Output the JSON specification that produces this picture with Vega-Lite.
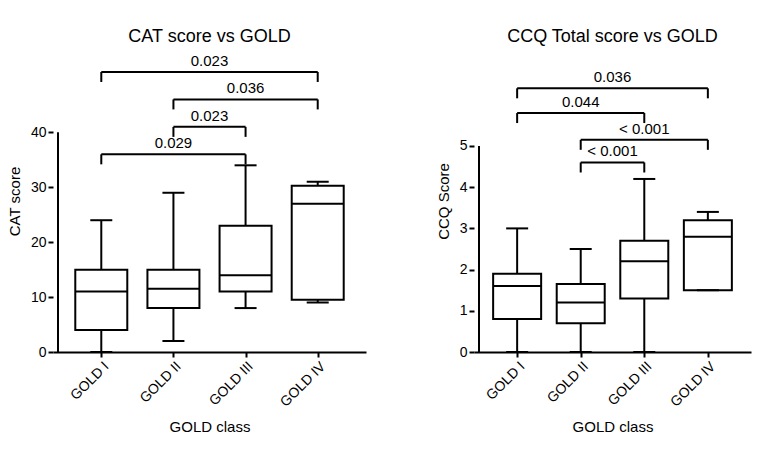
{
"$schema":"https://vega.github.io/schema/vega-lite/v6.json",
"padding":{"left":7,"top":28,"right":5,"bottom":5},
"spacing":70,
"config":{"font":"Liberation Sans","view":{"stroke":null},"axis":{"labelFontSize":14,"titleFontSize":15,"titleFontWeight":"normal","labelColor":"#000","titleColor":"#000","domainColor":"#000","tickColor":"#000","domainWidth":2,"tickWidth":2,"grid":false},"title":{"fontSize":18,"fontWeight":"normal"}},
"datasets":{
"boxesL":[{"g":1,"lo":0,"q1":4,"med":11,"q3":15,"hi":24},{"g":2,"lo":2,"q1":8,"med":11.5,"q3":15,"hi":29},{"g":3,"lo":8,"q1":11,"med":14,"q3":23,"hi":34},{"g":4,"lo":9,"q1":9.5,"med":27,"q3":30.3,"hi":31}],
"boxesR":[{"g":1,"lo":0,"q1":0.8,"med":1.6,"q3":1.9,"hi":3},{"g":2,"lo":0,"q1":0.7,"med":1.2,"q3":1.65,"hi":2.5},{"g":3,"lo":0,"q1":1.3,"med":2.2,"q3":2.7,"hi":4.2},{"g":4,"lo":1.5,"q1":1.5,"med":2.8,"q3":3.2,"hi":3.4}],
"brL":[{"from":1,"to":3,"y":36,"label":"0.029"},{"from":2,"to":3,"y":41,"label":"0.023"},{"from":2,"to":4,"y":46,"label":"0.036"},{"from":1,"to":4,"y":51,"label":"0.023"}],
"brR":[{"from":2,"to":3,"y":4.6,"label":"< 0.001"},{"from":2,"to":4,"y":5.15,"label":"< 0.001"},{"from":1,"to":3,"y":5.8,"label":"0.044"},{"from":1,"to":4,"y":6.4,"label":"0.036"}]
},
"hconcat":[
{"title":"CAT score vs GOLD","width":313,"height":302,
"layer":[
{"data":{"values":[{"a":0}]},"mark":{"type":"rule","strokeWidth":2,"color":"#000"},"encoding":{"x":{"datum":0.4,"type":"quantitative","scale":{"domain":[0.4,4.6]}},"y":{"datum":0,"type":"quantitative"},"y2":{"datum":40}}},
{"data":{"name":"boxesL"},"mark":{"type":"rule","strokeWidth":2,"color":"#000"},"encoding":{"x":{"field":"g","type":"quantitative","scale":{"domain":[0.4,4.6],"nice":false},"axis":{"values":[1,2,3,4],"labelExpr":"['','GOLD I','GOLD II','GOLD III','GOLD IV'][datum.value]","labelAngle":-45,"title":"GOLD class","titlePadding":10}},"y":{"field":"lo","type":"quantitative","scale":{"domain":[0,55],"nice":false},"axis":{"values":[0,10,20,30,40],"domain":false,"title":"CAT score","titlePadding":8}},"y2":{"field":"hi"}}},
{"data":{"name":"boxesL"},"mark":{"type":"bar","fill":"white","stroke":"#000","strokeWidth":2,"size":52},"encoding":{"x":{"field":"g","type":"quantitative"},"y":{"field":"q1","type":"quantitative"},"y2":{"field":"q3"}}},
{"data":{"name":"boxesL"},"mark":{"type":"tick","orient":"horizontal","color":"#000","size":52,"thickness":2,"opacity":1},"encoding":{"x":{"field":"g","type":"quantitative"},"y":{"field":"med","type":"quantitative"}}},
{"data":{"name":"boxesL"},"mark":{"type":"tick","orient":"horizontal","color":"#000","size":22,"thickness":2,"opacity":1},"encoding":{"x":{"field":"g","type":"quantitative"},"y":{"field":"lo","type":"quantitative"}}},
{"data":{"name":"boxesL"},"mark":{"type":"tick","orient":"horizontal","color":"#000","size":22,"thickness":2,"opacity":1},"encoding":{"x":{"field":"g","type":"quantitative"},"y":{"field":"hi","type":"quantitative"}}},
{"data":{"name":"brL"},"mark":{"type":"rule","strokeWidth":2,"color":"#000"},"encoding":{"x":{"field":"from","type":"quantitative"},"x2":{"field":"to"},"y":{"field":"y","type":"quantitative"}}},
{"data":{"name":"brL"},"mark":{"type":"tick","orient":"vertical","color":"#000","size":10,"thickness":2,"opacity":1,"yOffset":5},"encoding":{"x":{"field":"from","type":"quantitative"},"y":{"field":"y","type":"quantitative"}}},
{"data":{"name":"brL"},"mark":{"type":"tick","orient":"vertical","color":"#000","size":10,"thickness":2,"opacity":1,"yOffset":5},"encoding":{"x":{"field":"to","type":"quantitative"},"y":{"field":"y","type":"quantitative"}}},
{"data":{"name":"brL"},"transform":[{"calculate":"(datum.from+datum.to)/2","as":"mid"}],"mark":{"type":"text","fontSize":15,"dy":-11,"color":"#000"},"encoding":{"x":{"field":"mid","type":"quantitative"},"y":{"field":"y","type":"quantitative"},"text":{"field":"label"}}}
]},
{"title":"CCQ Total score vs GOLD","width":277,"height":302,
"layer":[
{"data":{"values":[{"a":0}]},"mark":{"type":"rule","strokeWidth":2,"color":"#000"},"encoding":{"x":{"datum":0.4,"type":"quantitative","scale":{"domain":[0.4,4.6]}},"y":{"datum":0,"type":"quantitative"},"y2":{"datum":5}}},
{"data":{"name":"boxesR"},"mark":{"type":"rule","strokeWidth":2,"color":"#000"},"encoding":{"x":{"field":"g","type":"quantitative","scale":{"domain":[0.4,4.6],"nice":false},"axis":{"values":[1,2,3,4],"labelExpr":"['','GOLD I','GOLD II','GOLD III','GOLD IV'][datum.value]","labelAngle":-45,"title":"GOLD class","titlePadding":10}},"y":{"field":"lo","type":"quantitative","scale":{"domain":[0,7.33],"nice":false},"axis":{"values":[0,1,2,3,4,5],"domain":false,"title":"CCQ Score","titlePadding":8}},"y2":{"field":"hi"}}},
{"data":{"name":"boxesR"},"mark":{"type":"bar","fill":"white","stroke":"#000","strokeWidth":2,"size":48},"encoding":{"x":{"field":"g","type":"quantitative"},"y":{"field":"q1","type":"quantitative"},"y2":{"field":"q3"}}},
{"data":{"name":"boxesR"},"mark":{"type":"tick","orient":"horizontal","color":"#000","size":48,"thickness":2,"opacity":1},"encoding":{"x":{"field":"g","type":"quantitative"},"y":{"field":"med","type":"quantitative"}}},
{"data":{"name":"boxesR"},"mark":{"type":"tick","orient":"horizontal","color":"#000","size":22,"thickness":2,"opacity":1},"encoding":{"x":{"field":"g","type":"quantitative"},"y":{"field":"lo","type":"quantitative"}}},
{"data":{"name":"boxesR"},"mark":{"type":"tick","orient":"horizontal","color":"#000","size":22,"thickness":2,"opacity":1},"encoding":{"x":{"field":"g","type":"quantitative"},"y":{"field":"hi","type":"quantitative"}}},
{"data":{"name":"brR"},"mark":{"type":"rule","strokeWidth":2,"color":"#000"},"encoding":{"x":{"field":"from","type":"quantitative"},"x2":{"field":"to"},"y":{"field":"y","type":"quantitative"}}},
{"data":{"name":"brR"},"mark":{"type":"tick","orient":"vertical","color":"#000","size":10,"thickness":2,"opacity":1,"yOffset":5},"encoding":{"x":{"field":"from","type":"quantitative"},"y":{"field":"y","type":"quantitative"}}},
{"data":{"name":"brR"},"mark":{"type":"tick","orient":"vertical","color":"#000","size":10,"thickness":2,"opacity":1,"yOffset":5},"encoding":{"x":{"field":"to","type":"quantitative"},"y":{"field":"y","type":"quantitative"}}},
{"data":{"name":"brR"},"transform":[{"calculate":"(datum.from+datum.to)/2","as":"mid"}],"mark":{"type":"text","fontSize":15,"dy":-11,"color":"#000"},"encoding":{"x":{"field":"mid","type":"quantitative"},"y":{"field":"y","type":"quantitative"},"text":{"field":"label"}}}
]}
]
}
